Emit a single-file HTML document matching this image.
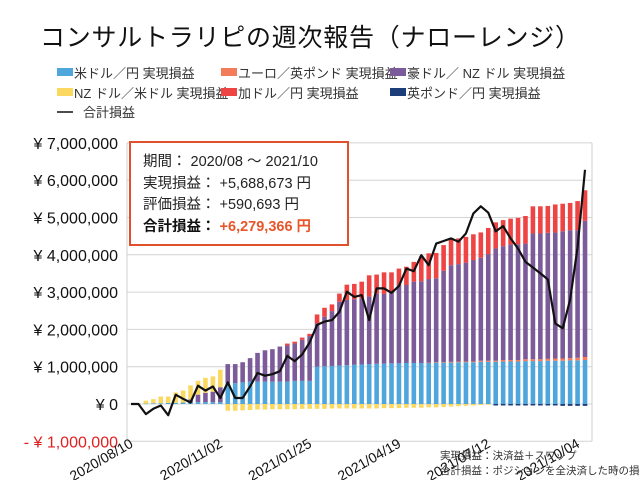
<!DOCTYPE html>
<html><head><meta charset="utf-8">
<style>
html,body{margin:0;padding:0;background:#fff;}
svg{display:block;font-family:"Liberation Sans","Noto Sans CJK JP",sans-serif;}
</style></head>
<body>
<svg id="chart" width="640" height="480" viewBox="0 0 640 480" xmlns="http://www.w3.org/2000/svg">
<text x="40" y="46" font-size="25" textLength="540" fill="#111">コンサルトラリピの週次報告（ナローレンジ）</text>
<g font-size="13" fill="#333">
 <g><rect x="57" y="68" width="16" height="8" fill="#4fa6dc"/><text x="74" y="78">米ドル／円 実現損益</text></g>
 <g><rect x="221" y="68" width="16" height="8" fill="#f47c5a"/><text x="238" y="78">ユーロ／英ポンド 実現損益</text></g>
 <g><rect x="390" y="68" width="16" height="8" fill="#7b5b99"/><text x="407" y="78">豪ドル／ NZ ドル 実現損益</text></g>
 <g><rect x="57" y="88" width="16" height="8" fill="#fbd960"/><text x="74" y="98">NZ ドル／米ドル 実現損益</text></g>
 <g><rect x="221" y="88" width="16" height="8" fill="#ef4444"/><text x="238" y="98">加ドル／円 実現損益</text></g>
 <g><rect x="390" y="88" width="16" height="8" fill="#1c3f7a"/><text x="407" y="98">英ポンド／円 実現損益</text></g>
 <g><line x1="57" y1="112" x2="73" y2="112" stroke="#111" stroke-width="1.5"/><text x="83" y="117">合計損益</text></g>
</g>
<g id="grid"></g>
<g id="ylabels" font-size="16"></g>
<g id="bars"></g>
<g id="line"></g>
<g id="xlabels" font-size="14" fill="#111"></g>
<g>
 <rect x="130" y="142" width="218" height="103" fill="#fff" stroke="#e0502a" stroke-width="2"/>
 <text x="143" y="166" font-size="14.5" fill="#222">期間： 2020/08 ～ 2021/10</text>
 <text x="143" y="188" font-size="14.5" fill="#222">実現損益： +5,688,673 円</text>
 <text x="143" y="209" font-size="14.5" fill="#222">評価損益： +590,693 円</text>
 <text x="143" y="231" font-size="14.5" font-weight="bold" fill="#111">合計損益： <tspan fill="#e8562a">+6,279,366 円</tspan></text>
</g>
<text x="440" y="459" font-size="10.5" fill="#333">実現損益：決済益＋スワップ</text>
<text x="440" y="474" font-size="10.5" fill="#333">合計損益：ポジションを全決済した時の損益</text>
</svg>
<script>
// values in units of 10,000 JPY, weekly from 2020/08/10 (62 weeks)
const usdjpy = [0,1,1,2,2,3,3,4,4,5,5,5,5,56,56,58,60,60,60,60,60,60,62,62,62,100,101,102,103,104,105,106,107,108,108,109,109,110,110,110,110,111,111,111,112,112,112,113,113,113,114,114,114,115,115,115,116,116,116,117,117,118];
const eurgbp = [0,0,0,0,0,0,0,0,0,0,0,0,0,0,0,0,0,0,0,0,0,0,0,0,0,0,0,0,0,0,0,0,0,0,0,0,0,0,0,0,1,1,1,2,2,2,2,3,3,3,4,4,4,5,5,5,5,6,6,6,7,8];
const audnzd = [0,0,0,0,0,0,0,0,8,20,25,28,40,51,51,54,63,77,84,87,94,97,100,110,120,116,133,147,171,175,176,177,181,188,187,192,210,209,218,219,224,225,245,259,261,265,272,276,286,301,305,310,310,310,337,337,338,338,341,343,342,365];
const nzdusd = [0,1,8,11,18,17,28,32,38,37,40,41,47,-18,-18,-17,-16,-15,-15,-14,-14,-14,-14,-13,-13,-13,-13,-12,-12,-12,-12,-12,-12,-12,-11,-11,-11,-10,-10,-10,-9,-9,-8,-7,-6,-5,-4,-3,-2,0,0,0,0,0,0,0,0,0,0,0,0,0];
const cadjpy = [0,0,0,0,0,0,0,0,0,0,0,0,0,0,0,0,0,0,0,0,0,5,5,6,6,24,24,18,22,41,41,45,57,51,58,52,44,49,53,67,69,68,69,69,69,69,69,68,70,70,70,69,71,74,73,73,72,75,74,73,78,82];
const gbpjpy = [0,0,0,0,0,0,0,0,0,0,0,0,0,0,0,0,0,0,0,0,0,0,0,0,0,0,0,0,0,0,0,0,0,0,0,0,0,0,0,0,0,0,0,0,0,0,0,0,0,-4,-4,-4,-4,-4,-4,-4,-4,-4,-5,-5,-5,-5];
const total = [0,0,-27,-13,-4,-30,25,14,4,49,36,47,16,58,16,16,47,83,76,80,88,129,115,133,165,212,221,225,247,301,287,292,225,310,310,298,316,363,356,399,372,430,437,444,435,457,511,530,513,463,477,444,417,381,366,350,334,216,203,279,421,628];
const yTicks = [700,600,500,400,300,200,100,0,-100];
const yTickLabels = ["¥ 7,000,000","¥ 6,000,000","¥ 5,000,000","¥ 4,000,000","¥ 3,000,000","¥ 2,000,000","¥ 1,000,000","¥ 0","- ¥ 1,000,000"];
const xLabelIdx = [0,12,24,36,48,60];
const xLabels = ["2020/08/10","2020/11/02","2021/01/25","2021/04/19","2021/07/12","2021/10/04"];

const NS="http://www.w3.org/2000/svg";
const PL=127, PR=592, Y0=404, PX_PER=0.373;
const N=usdjpy.length;
const step=(PR-PL-8)/(N-0.6);
function yScale(v){return Y0 - v*PX_PER;}
function xScale(i){return 131 + i*step;}
function mk(tag,attrs,parent){const e=document.createElementNS(NS,tag);for(const k in attrs)e.setAttribute(k,attrs[k]);parent.appendChild(e);return e;}

const grid=document.getElementById('grid');
const yl=document.getElementById('ylabels');
yTicks.forEach((t,k)=>{
  const l=mk('line',{x1:PL,x2:PR,y1:yScale(t),y2:yScale(t),stroke:'#d4d4d4','stroke-width':1},grid);
  
  
  const tx=mk('text',{x:118,y:yScale(t)+6,'text-anchor':'end',fill:t<0?'#e02020':'#111'},yl);
  tx.textContent=yTickLabels[k];
  
  
});
const fr=mk('path',{d:`M${PL} ${yScale(700)} V${yScale(-100)} M${PR} ${yScale(700)} V${yScale(-100)}`,stroke:'#cfcfcf','stroke-width':1,fill:'none'},grid);



const series=[[usdjpy,'#4fa6dc','usdjpy'],[eurgbp,'#f47c5a','eurgbp'],[audnzd,'#7b5b99','audnzd'],[nzdusd,'#fbd960','nzdusd'],[cadjpy,'#ef4444','cadjpy'],[gbpjpy,'#1c3f7a','gbpjpy']];
const bars=document.getElementById('bars');
const bw=4.6;
for(let i=0;i<N;i++){
  let pos=0,neg=0;
  series.forEach(([arr,col,nm])=>{
    const v=arr[i]; if(!v) return;
    let a,b;
    if(v>0){a=pos;b=pos+v;pos=b;}else{a=neg;b=neg+v;neg=b;}
    const y1=yScale(Math.max(a,b)), y2=yScale(Math.min(a,b));
    const r=mk('rect',{x:xScale(i)-bw/2,y:y1,width:bw,height:Math.max(0.5,y2-y1),fill:col},bars);
    
    
  });
}
const pts=total.map((v,i)=>xScale(i).toFixed(1)+','+yScale(v).toFixed(1)).join(' ');
const pl=mk('polyline',{points:pts,fill:'none',stroke:'#111','stroke-width':2.2,'stroke-linejoin':'round'},document.getElementById('line'));



const xl=document.getElementById('xlabels');
xLabelIdx.forEach((idx,k)=>{
  const x=xScale(idx)+3, y=yScale(-100)+5;
  const t=mk('text',{x:x,y:y,'text-anchor':'end',transform:`rotate(-30 ${x} ${y})`},xl);
  t.textContent=xLabels[k];
  
  
});
</script>
</body></html>
